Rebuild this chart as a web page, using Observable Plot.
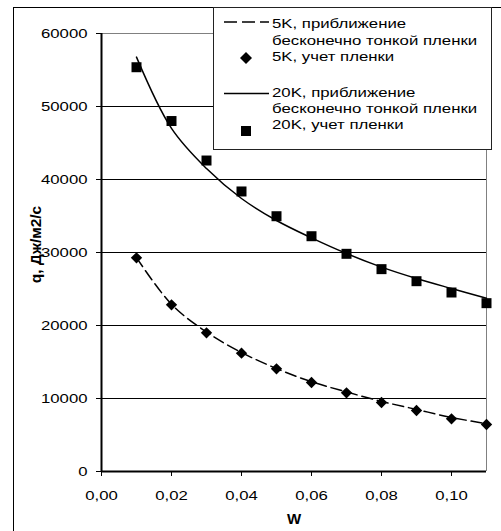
<!DOCTYPE html>
<html><head><meta charset="utf-8">
<script src="https://cdn.jsdelivr.net/npm/d3@7"></script>
<script src="https://cdn.jsdelivr.net/npm/@observablehq/plot@0.6"></script>
<style>
body{margin:0;background:#fff;font-family:"Liberation Sans",Arial,sans-serif;}
#wrap{position:relative;width:501px;height:531px;overflow:hidden;}
#border{position:absolute;left:13px;top:7px;width:600px;height:600px;border-left:1px solid #000;border-top:1px solid #000;pointer-events:none;}
#legend{position:absolute;left:213px;top:7px;width:277px;height:141px;background:#fff;border:1px solid #222;font-size:13px;color:#000;}
#legend svg{position:absolute;left:0;top:0;}
#legend .t{position:absolute;left:58px;height:16px;line-height:16px;white-space:nowrap;transform:scaleX(1.29);transform-origin:0 50%;}
</style></head>
<body>
<div id="wrap">
<div id="chart"></div>
<div id="border"></div>
<div id="legend"></div>
</div>
<script>
const w = [0.01, 0.02, 0.03, 0.04, 0.05, 0.06, 0.07, 0.08, 0.09, 0.10, 0.11];
const fit5K   = [29300, 22900, 19100, 16300, 14100, 12300, 10900, 9600, 8500, 7400, 6550];
const film5K  = [29270, 22830, 19000, 16210, 14060, 12190, 10780, 9450, 8360, 7210, 6440];
const fit20K  = [56760, 47000, 41500, 37400, 34380, 32000, 29860, 28000, 26440, 25070, 23740];
const film20K = [55380, 48010, 42600, 38360, 34970, 32230, 29820, 27720, 26070, 24520, 23060];
const yTicks = [0, 10000, 20000, 30000, 40000, 50000, 60000];
const xTicks = [0, 0.02, 0.04, 0.06, 0.08, 0.10];
const yLabel = "q, Дж/м2/с";
const xLabel = "W";
const legendLabels = [["5K, приближение", "бесконечно тонкой пленки"], ["5K, учет пленки"], ["20K, приближение", "бесконечно тонкой пленки"], ["20K, учет пленки"]];

const d5 = w.map((x, i) => ({x, fit: fit5K[i], film: film5K[i]}));
const d20 = w.map((x, i) => ({x, fit: fit20K[i], film: film20K[i]}));
const fmt = d => d.toFixed(2).replace(".", ",");
const SX = 1.24;

const chart = Plot.plot({
  width: 501, height: 531,
  marginLeft: 101, marginRight: 15, marginTop: 33, marginBottom: 60,
  style: {fontFamily: "'Liberation Sans', Arial, sans-serif", fontSize: "13px", background: "transparent", color: "#000"},
  x: {domain: [0, 0.11]},
  y: {domain: [0, 60000]},
  marks: [
    Plot.gridY(yTicks.filter(t => t > 0 && t < 60000), {stroke: "#000", strokeOpacity: 1, strokeWidth: 1}),
    Plot.ruleY([60000], {stroke: "#808080", strokeWidth: 1}),
    Plot.ruleX([0.11], {stroke: "#808080", strokeWidth: 1}),
    Plot.axisY({ticks: yTicks, tickSize: 5, tickPadding: 9, tickFormat: d => String(d), label: null, fontSize: 13.5}),
    Plot.axisX({ticks: xTicks, tickSize: 5, tickPadding: 14, tickFormat: fmt, label: null, fontSize: 13.5}),
    Plot.ruleX([0], {stroke: "#000", strokeWidth: 2}),
    Plot.ruleY([0], {stroke: "#000", strokeWidth: 2}),
    Plot.line(d5, {x: "x", y: "fit", stroke: "#000", strokeWidth: 1.5, strokeDasharray: "11,5", curve: "catmull-rom"}),
    Plot.line(d20, {x: "x", y: "fit", stroke: "#000", strokeWidth: 1.5, curve: "catmull-rom"}),
    Plot.dot(d5, {x: "x", y: "film", symbol: "diamond2", r: 5.1, fill: "#000", stroke: "none"}),
    Plot.dot(d20, {x: "x", y: "film", symbol: "square", r: 5.64, fill: "#000", stroke: "none"}),
    Plot.text([yLabel], {frameAnchor: "left", dx: -65, dy: -8, rotate: -90, fontWeight: "bold", fontSize: 15.5, textAnchor: "middle", lineAnchor: "middle"}),
    Plot.text([xLabel], {frameAnchor: "bottom", dy: 48, fontWeight: "bold", fontSize: 15, lineAnchor: "middle", ariaLabel: "xlabel"})
  ]
});
// horizontally widen horizontal texts to match the reference's stretched glyphs
chart.querySelectorAll('[aria-label="y-axis tick label"] text, [aria-label="x-axis tick label"] text, [aria-label="xlabel"] text').forEach(t => {
  const tr = t.getAttribute("transform") || "";
  t.setAttribute("transform", tr + ` scale(${SX},1)`);
});
document.getElementById("chart").appendChild(chart);

// legend
const lg = document.getElementById("legend");
const L = 213, T = 7;
const sym = `<svg width="277" height="141">
<line x1="${223-L}" x2="${268-L}" y1="${21-T}" y2="${21-T}" stroke="#000" stroke-width="1.5" stroke-dasharray="13,5"/>
<path d="M${245-L},${51-T}L${251-L},${57-T}L${245-L},${63-T}L${239-L},${57-T}Z" fill="#000"/>
<line x1="${223-L}" x2="${268-L}" y1="${92.5-T}" y2="${92.5-T}" stroke="#000" stroke-width="1.5"/>
<rect x="${240-L}" y="${125-T}" width="10" height="10" fill="#000"/>
</svg>`;
lg.innerHTML = sym;
const lineCenters = [[24, 41], [57], [92.5, 109], [125]];
legendLabels.forEach((lines, i) => {
  lines.forEach((s, j) => {
    const sp = document.createElement("div");
    sp.className = "t";
    sp.textContent = s;
    sp.style.top = (lineCenters[i][j] - T - 1 - 8) + "px";
    lg.appendChild(sp);
  });
});
</script>
</body></html>
